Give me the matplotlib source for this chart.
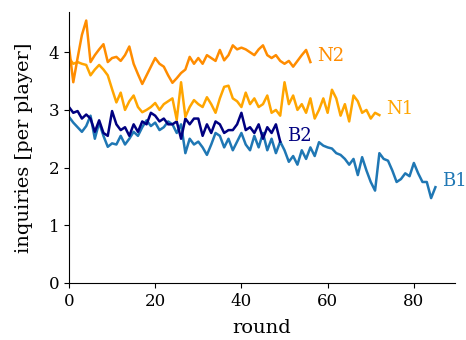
import numpy as np
import matplotlib
matplotlib.use("Agg")
import matplotlib.pyplot as plt

plt.rcParams["font.family"] = ["DejaVu Serif"]
plt.rcParams["font.size"] = 12

# average inquiries per player, one value per round
B1 = [2.88, 2.78, 2.70, 2.62, 2.72, 2.90, 2.50, 2.78, 2.55, 2.36,
      2.42, 2.40, 2.55, 2.40, 2.50, 2.62, 2.55, 2.70, 2.82, 2.72,
      2.78, 2.65, 2.70, 2.80, 2.75, 2.60, 2.75, 2.25, 2.50, 2.40,
      2.45, 2.35, 2.22, 2.40, 2.60, 2.55, 2.35, 2.50, 2.30, 2.45,
      2.60, 2.40, 2.30, 2.55, 2.35, 2.60, 2.30, 2.50, 2.25, 2.45,
      2.30, 2.10, 2.20, 2.05, 2.30, 2.15, 2.35, 2.20, 2.44, 2.38,
      2.35, 2.33, 2.25, 2.22, 2.15, 2.05, 2.15, 1.87, 2.18, 1.95,
      1.75, 1.60, 2.25, 2.15, 2.12, 1.95, 1.75, 1.80, 1.90, 1.85,
      2.08, 1.90, 1.75, 1.75, 1.47, 1.66]
B2 = [3.05, 2.95, 2.98, 2.85, 2.92, 2.85, 2.62, 2.82, 2.60, 2.55,
      2.98, 2.75, 2.65, 2.70, 2.55, 2.75, 2.62, 2.80, 2.75, 2.95,
      2.90, 2.80, 2.85, 2.75, 2.75, 2.80, 2.50, 2.85, 2.75, 2.85,
      2.85, 2.55, 2.75, 2.60, 2.80, 2.75, 2.60, 2.65, 2.65, 2.75,
      2.95, 2.65, 2.70, 2.60, 2.75, 2.50, 2.70, 2.60, 2.75, 2.45]
N1 = [3.90, 3.80, 3.83, 3.80, 3.78, 3.60, 3.70, 3.78, 3.70, 3.60,
      3.36, 3.13, 3.30, 3.00, 3.15, 3.25, 3.05, 2.96, 3.00, 3.05,
      3.12, 3.00, 3.10, 3.15, 3.20, 2.83, 3.48, 2.88, 3.05, 3.17,
      3.10, 3.05, 3.22, 3.10, 2.95, 3.20, 3.40, 3.42, 3.20, 3.15,
      3.05, 3.30, 3.10, 3.20, 3.05, 3.10, 3.25, 2.95, 3.00, 2.90,
      3.48, 3.10, 3.25, 3.00, 3.10, 2.95, 3.20, 2.85, 3.00, 3.20,
      2.95, 3.35, 3.20, 2.90, 3.10, 2.80, 3.25, 3.15, 2.95, 3.00,
      2.85, 2.95, 2.91]
N2 = [4.10, 3.48, 3.90, 4.30, 4.55, 3.83, 3.95, 4.05, 4.14, 3.83,
      3.90, 3.92, 3.85, 3.95, 4.10, 3.80, 3.62, 3.45, 3.60, 3.75,
      3.90, 3.80, 3.75, 3.60, 3.47, 3.55, 3.64, 3.70, 3.92, 3.80,
      3.90, 3.80, 3.95, 3.90, 3.85, 4.04, 3.86, 3.95, 4.12, 4.05,
      4.08, 4.05, 4.00, 3.95, 4.05, 4.12, 3.95, 3.90, 3.95, 3.85,
      3.80, 3.85, 3.75, 3.85, 3.95, 4.04, 3.83]

series = [("B1", B1, "#1f77b4"), ("B2", B2, "#000080"),
          ("N1", N1, "#ffa500"), ("N2", N2, "#ff8c00")]

fig = plt.figure(figsize=(4.66, 3.4), dpi=100)
ax = fig.add_axes([0.148, 0.168, 0.828, 0.797])

for name, vals, col in series:
    x = np.arange(len(vals))
    ax.plot(x, vals, color=col, lw=1.8)
    ax.text(x[-1] + 1.5, vals[-1] + 0.1, name, color=col, va="center", ha="left",
            fontsize=13)

ax.set_xlim(0, 89.5)
ax.set_ylim(0, 4.7)
ax.set_xticks([0, 20, 40, 60, 80])
ax.set_yticks([0, 1, 2, 3, 4])
ax.set_xlabel("round", fontsize=14, labelpad=7)
ax.set_ylabel("inquiries [per player]", fontsize=14, labelpad=11)
ax.spines["top"].set_visible(False)
ax.spines["right"].set_visible(False)

fig.savefig("out.png", dpi=100)
